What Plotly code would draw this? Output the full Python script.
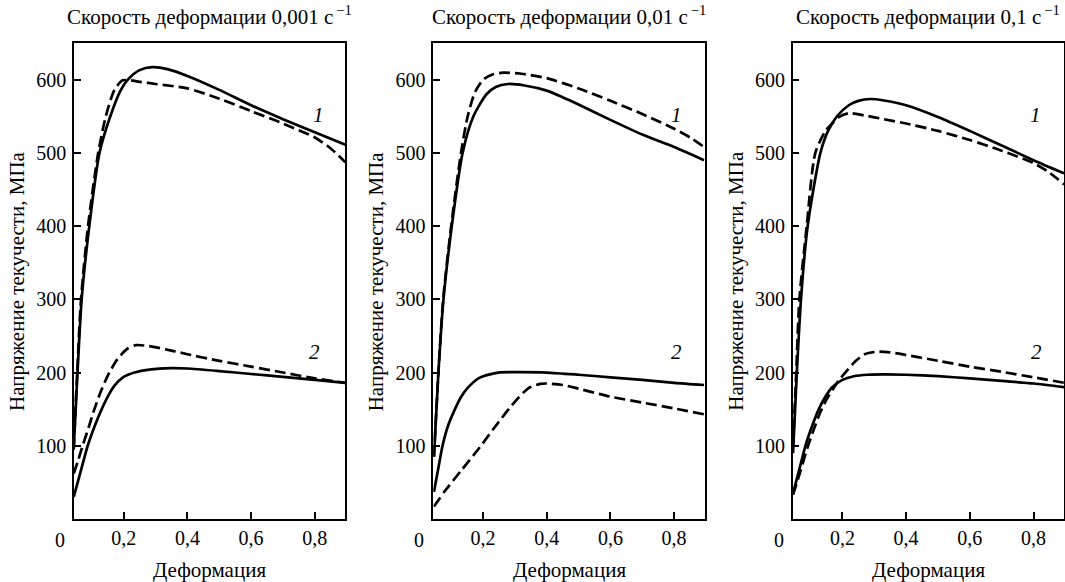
import plotly.graph_objects as go

# ---------------- data ----------------
titles = ["Скорость деформации 0,001 с<sup>\u2009−1</sup>",
          "Скорость деформации 0,01 с<sup>\u2009−1</sup>",
          "Скорость деформации 0,1 с<sup>\u2009−1</sup>"]
x_label = "Деформация"
y_label = "Напряжение текучести, МПа"
x_tick_vals = [0.2, 0.4, 0.6, 0.8]
x_tick_text = ["0,2", "0,4", "0,6", "0,8"]
y_tick_vals = [100, 200, 300, 400, 500, 600]
curve_labels = ["1", "2"]

# Panel 1 (0.001 1/s)
p1_s1_x = [0.043, 0.055, 0.068, 0.092, 0.124, 0.158, 0.19, 0.213, 0.25, 0.29, 0.34, 0.4, 0.5, 0.6, 0.7, 0.8, 0.896]
p1_s1_y = [95, 200, 300, 400, 500, 550, 585, 600, 613, 617, 614, 605, 586, 565, 546, 528, 511]
p1_d1_x = [0.043, 0.054, 0.066, 0.088, 0.12, 0.144, 0.17, 0.197, 0.25, 0.3, 0.4, 0.5, 0.6, 0.7, 0.8, 0.85, 0.896]
p1_d1_y = [95, 200, 300, 400, 500, 550, 585, 599, 597, 594, 588, 574, 557, 540, 521, 506, 487]
p1_s2_x = [0.043, 0.065, 0.087, 0.11, 0.129, 0.15, 0.171, 0.2, 0.234, 0.28, 0.35, 0.4, 0.5, 0.6, 0.7, 0.8, 0.896]
p1_s2_y = [30, 65, 100, 128, 148, 167, 182, 194, 200, 204, 206, 205.5, 202, 198, 194, 190, 186]
p1_d2_x = [0.043, 0.057, 0.071, 0.09, 0.108, 0.13, 0.155, 0.18, 0.21, 0.239, 0.28, 0.35, 0.4, 0.5, 0.6, 0.7, 0.8, 0.896]
p1_d2_y = [62, 80, 100, 125, 150, 176, 200, 218, 232, 237.5, 236, 230, 225, 216, 208, 200, 192, 186]

# Panel 2 (0.01 1/s)
p2_s1_x = [0.046, 0.06, 0.076, 0.102, 0.136, 0.17, 0.211, 0.24, 0.279, 0.33, 0.4, 0.45, 0.5, 0.6, 0.7, 0.8, 0.894]
p2_s1_y = [85, 200, 300, 400, 500, 550, 580, 590, 594, 592, 585, 576, 566, 545, 525, 508, 490]
p2_d1_x = [0.046, 0.06, 0.075, 0.1, 0.131, 0.152, 0.175, 0.201, 0.23, 0.263, 0.32, 0.4, 0.5, 0.6, 0.7, 0.8, 0.85, 0.894]
p2_d1_y = [85, 200, 300, 400, 500, 550, 583, 600, 607, 609.5, 608, 602, 588, 571, 553, 533, 521, 508]
p2_s2_x = [0.046, 0.06, 0.073, 0.09, 0.112, 0.13, 0.154, 0.19, 0.248, 0.3, 0.4, 0.5, 0.6, 0.7, 0.8, 0.894]
p2_s2_y = [37, 70, 100, 127, 150, 166, 180, 193, 200, 200.5, 200, 197, 193.5, 190, 186, 183]
p2_d2_x = [0.046, 0.08, 0.133, 0.19, 0.238, 0.29, 0.342, 0.38, 0.4, 0.45, 0.5, 0.6, 0.7, 0.8, 0.894]
p2_d2_y = [17, 38, 67, 98, 126, 155, 178.5, 184.5, 185, 183, 178, 167, 159, 151, 143]

# Panel 3 (0.1 1/s)
p3_s1_x = [0.045, 0.057, 0.07, 0.091, 0.131, 0.155, 0.183, 0.22, 0.25, 0.288, 0.33, 0.4, 0.5, 0.6, 0.7, 0.8, 0.896]
p3_s1_y = [90, 200, 300, 400, 500, 530, 550, 565, 571, 573.5, 571.5, 565, 549, 530, 510, 490, 472]
p3_d1_x = [0.045, 0.055, 0.065, 0.088, 0.115, 0.147, 0.168, 0.19, 0.22, 0.27, 0.33, 0.4, 0.5, 0.6, 0.7, 0.8, 0.85, 0.896]
p3_d1_y = [100, 200, 300, 400, 500, 530, 540, 549, 554, 551, 546, 540, 530, 517.5, 503, 486, 473, 457]
p3_s2_x = [0.045, 0.065, 0.084, 0.105, 0.126, 0.145, 0.168, 0.2, 0.236, 0.28, 0.33, 0.4, 0.5, 0.6, 0.7, 0.8, 0.896]
p3_s2_y = [35, 68, 100, 127, 150, 166, 180, 190, 195, 197, 197.5, 197, 195, 192, 188.5, 185, 180]
p3_d2_x = [0.045, 0.068, 0.09, 0.11, 0.13, 0.15, 0.17, 0.19, 0.209, 0.24, 0.27, 0.309, 0.35, 0.4, 0.5, 0.6, 0.7, 0.8, 0.896]
p3_d2_y = [33, 65, 97, 122, 145, 163, 177, 190, 200, 215, 225, 228.5, 227.5, 224, 216, 208, 201, 193.5, 186]

# label positions (data coords) for curve numbers
label1_pos = [(0.81, 552), (0.807, 552), (0.805, 552)]
label2_pos = [(0.80, 228), (0.807, 228), (0.808, 228)]

panels = [
    [(p1_s1_x, p1_s1_y, "solid"), (p1_d1_x, p1_d1_y, "dash"), (p1_s2_x, p1_s2_y, "solid"), (p1_d2_x, p1_d2_y, "dash")],
    [(p2_s1_x, p2_s1_y, "solid"), (p2_d1_x, p2_d1_y, "dash"), (p2_s2_x, p2_s2_y, "solid"), (p2_d2_x, p2_d2_y, "dash")],
    [(p3_s1_x, p3_s1_y, "solid"), (p3_d1_x, p3_d1_y, "dash"), (p3_s2_x, p3_s2_y, "solid"), (p3_d2_x, p3_d2_y, "dash")],
]

# ---------------- layout geometry ----------------
W, H = 1065, 582
FONT = "Liberation Serif"
x_range = [0.044, 0.896]
y_range = [0, 650]
left_px = [74, 433.3, 792.7]
plot_w = 271.4
top_px, bot_px = 43, 519
TXT = 21
TICK = 20

fig = go.Figure()
layout = dict(
    width=W, height=H,
    margin=dict(l=0, r=0, t=0, b=0),
    paper_bgcolor="white", plot_bgcolor="white",
    showlegend=False,
    font=dict(family=FONT, size=TICK, color="black"),
)
annotations = []

ydom = [1 - bot_px / H, 1 - top_px / H]
zero_dom_x = (0 - x_range[0]) / (x_range[1] - x_range[0])
for i, curves in enumerate(panels):
    n = "" if i == 0 else str(i + 1)
    xa, ya = "x" + n, "y" + n
    for cx, cy, dash in curves:
        fig.add_trace(go.Scatter(
            x=cx, y=cy, mode="lines", xaxis=xa, yaxis=ya,
            line=dict(color="black", width=2.7,
                      dash="solid" if dash == "solid" else "11px,5px",
                      shape="spline", smoothing=0.7),
            hoverinfo="skip"))
    xdom = [left_px[i] / W, (left_px[i] + plot_w) / W]
    layout["xaxis" + n] = dict(
        domain=xdom, range=x_range, anchor=ya,
        showline=True, linecolor="black", linewidth=1.5, mirror=True,
        ticks="inside", ticklen=7, tickwidth=1.5, tickcolor="black",
        tickvals=x_tick_vals, ticktext=x_tick_text,
        tickfont=dict(family=FONT, size=TICK, color="black"),
        showgrid=False, zeroline=False, fixedrange=True)
    layout["yaxis" + n] = dict(
        domain=ydom, range=y_range, anchor=xa,
        showline=True, linecolor="black", linewidth=1.5, mirror=True,
        ticks="inside", ticklen=7, tickwidth=1.5, tickcolor="black",
        tickvals=y_tick_vals, ticklabelstandoff=2,
        tickfont=dict(family=FONT, size=TICK, color="black"),
        showgrid=False, zeroline=False, fixedrange=True)

    cx_paper = (left_px[i] + plot_w / 2) / W
    # panel title
    annotations.append(dict(text=titles[i], xref="paper", yref="paper",
                            x=cx_paper, y=1 - 15 / H, showarrow=False,
                            xanchor="center", yanchor="middle",
                            font=dict(family=FONT, size=TXT, color="black")))
    # x axis title
    annotations.append(dict(text=x_label, xref="paper", yref="paper",
                            x=cx_paper, y=1 - 570 / H, showarrow=False,
                            xanchor="center", yanchor="middle",
                            font=dict(family=FONT, size=TXT, color="black")))
    # y axis title
    annotations.append(dict(text=y_label, xref="paper", yref="paper",
                            x=(left_px[i] - 57) / W, y=(ydom[0] + ydom[1]) / 2,
                            showarrow=False, textangle=-90,
                            xanchor="center", yanchor="middle",
                            font=dict(family=FONT, size=TXT, color="black")))
    # "0" tick label at x = 0 (outside the frame)
    annotations.append(dict(text="0", xref=xa + " domain", yref="paper",
                            x=zero_dom_x, y=1 - 540 / H, showarrow=False,
                            xanchor="center", yanchor="middle",
                            font=dict(family=FONT, size=TICK, color="black")))
    # curve numbers
    for (lx, ly), t in zip([label1_pos[i], label2_pos[i]], curve_labels):
        annotations.append(dict(text="<i>" + t + "</i>", xref=xa, yref=ya,
                                x=lx, y=ly, showarrow=False,
                                xanchor="center", yanchor="middle",
                                font=dict(family=FONT, size=TXT, color="black")))

layout["annotations"] = annotations
fig.update_layout(**layout)
fig.write_html("out.html", config={"displayModeBar": False},
               post_script="document.body.style.margin='0';document.body.style.overflow='hidden';")
